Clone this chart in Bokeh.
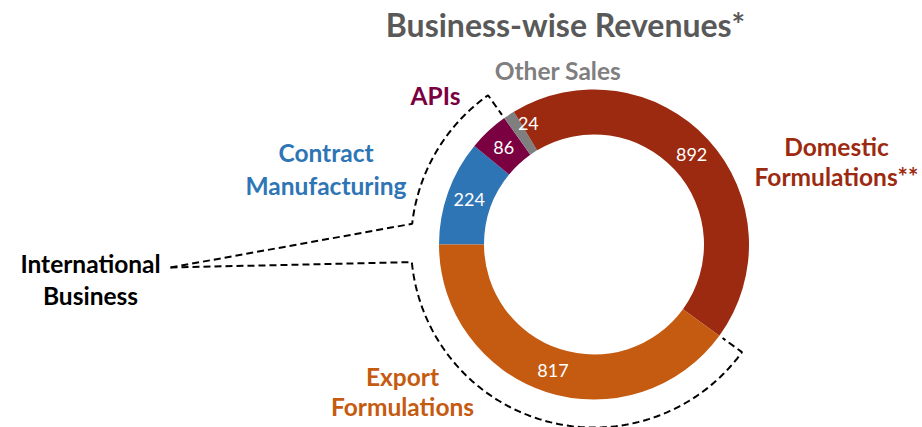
import math
import numpy as np
from bokeh.plotting import figure
from bokeh.models import Range1d
from bokeh.embed import file_html
from bokeh.resources import INLINE
from bokeh.core.properties import value

# ---- data ----
segments = ["Contract Manufacturing", "APIs", "Other Sales", "Domestic Formulations**", "Export Formulations"]
revenues = [224, 86, 24, 892, 817]
colors = ["#2E75B6", "#7B0041", "#7F7F7F", "#9C2A10", "#C55A11"]
label_colors = ["#2E75B6", "#7B0041", "#7F7F7F", "#9C2A10", "#C55A11"]
title_text = "Business-wise Revenues*"
group_label = ["International", "Business"]

W, H = 922, 427
FONT = "Lato"


def Y(py):
    return H - py


p = figure(width=W, height=H, x_range=Range1d(0, W), y_range=Range1d(0, H),
           output_backend="svg", toolbar_location=None,
           x_axis_location=None, y_axis_location=None, min_border=0)
p.grid.visible = False
p.outline_line_color = None
p.background_fill_color = "white"
p.border_fill_color = "white"

cx, cy = 593.5, Y(244)
r_in, r_out = 110, 155
total = float(sum(revenues))

starts, ends, mids = [], [], []
cum = 0.0
for v in revenues:
    s = math.pi - 2 * math.pi * cum / total
    e = math.pi - 2 * math.pi * (cum + v) / total
    starts.append(s)
    ends.append(e)
    mids.append((s + e) / 2)
    cum += v

p.annular_wedge(x=[cx] * len(revenues), y=[cy] * len(revenues), inner_radius=r_in, outer_radius=r_out,
                start_angle=starts, end_angle=ends, direction="clock",
                fill_color=colors, line_color=None)

# value labels (centroid of ring; small slice nudged outward like Excel best-fit)
r_mid = (r_in + r_out) / 2
nudge = {2: (7, 10)}
vx, vy = [], []
for i, a in enumerate(mids):
    dx, dy = nudge.get(i, (0, 0))
    vx.append(cx + r_mid * math.cos(a) + dx)
    vy.append(cy + r_mid * math.sin(a) + dy)
p.text(x=vx, y=vy, text=[str(v) for v in revenues], text_color="white",
       text_font=value(FONT), text_font_size="18px", text_align="center", text_baseline="middle")

# category labels (position style; y = visual baseline in screen px)
lab_pos = {
    "Contract Manufacturing": (325.5, [160.5, 193], ["Contract", "Manufacturing"]),
    "APIs": (435, [103], ["APIs"]),
    "Other Sales": (557.5, [78], ["Other Sales"]),
    "Domestic Formulations**": (836, [154, 184], ["Domestic", "Formulations**"]),
    "Export Formulations": (402, [384, 414], ["Export", "Formulations"]),
}
LFS = 24.5
TFS = 32
SHIFT = 0.33  # correction between requested and rendered baseline (em)
for seg, col in zip(segments, label_colors):
    x0, ys, lines = lab_pos[seg]
    p.text(x=[x0] * len(lines), y=[Y(yy - SHIFT * LFS) for yy in ys], text=lines, text_color=col,
           text_font=value(FONT), text_font_size=f"{LFS}px", text_font_style="bold",
           text_align="center", text_baseline="alphabetic")

# group label
p.text(x=[90, 90], y=[Y(271.5 - SHIFT * LFS), Y(303 - SHIFT * LFS)], text=group_label, text_color="black",
       text_font=value(FONT), text_font_size=f"{LFS}px", text_font_style="bold",
       text_align="center", text_baseline="alphabetic")

# title
p.text(x=[565], y=[Y(35 - SHIFT * TFS)], text=[title_text], text_color="#595959",
       text_font=value(FONT), text_font_size=f"{TFS}px", text_font_style="bold",
       text_align="center", text_baseline="alphabetic")

# brackets around the international business slices
rb = 183
gap = math.radians(6.5)
dash = "7 4"
a_up_end = ends[1]                 # APIs / Other boundary
a_up_start = math.pi - gap
a_lo_start = math.pi + gap * 0.85
a_lo_end = starts[4] + 2 * math.pi   # Domestic / Export boundary
lx, ly = 170, Y(267)
r_tick = r_out + 4


def bracket(a0, a1):
    t = np.linspace(a0, a1, 160)
    xs = [lx] + list(cx + rb * np.cos(t)) + [cx + r_tick * math.cos(a1)]
    ys = [ly] + list(cy + rb * np.sin(t)) + [cy + r_tick * math.sin(a1)]
    return xs, ys


for a0, a1 in ((a_up_start, a_up_end), (a_lo_start, a_lo_end)):
    xs, ys = bracket(a0, a1)
    p.line(xs, ys, line_color="black", line_width=2, line_dash=dash)

open("out.html", "w").write(file_html(p, INLINE))
